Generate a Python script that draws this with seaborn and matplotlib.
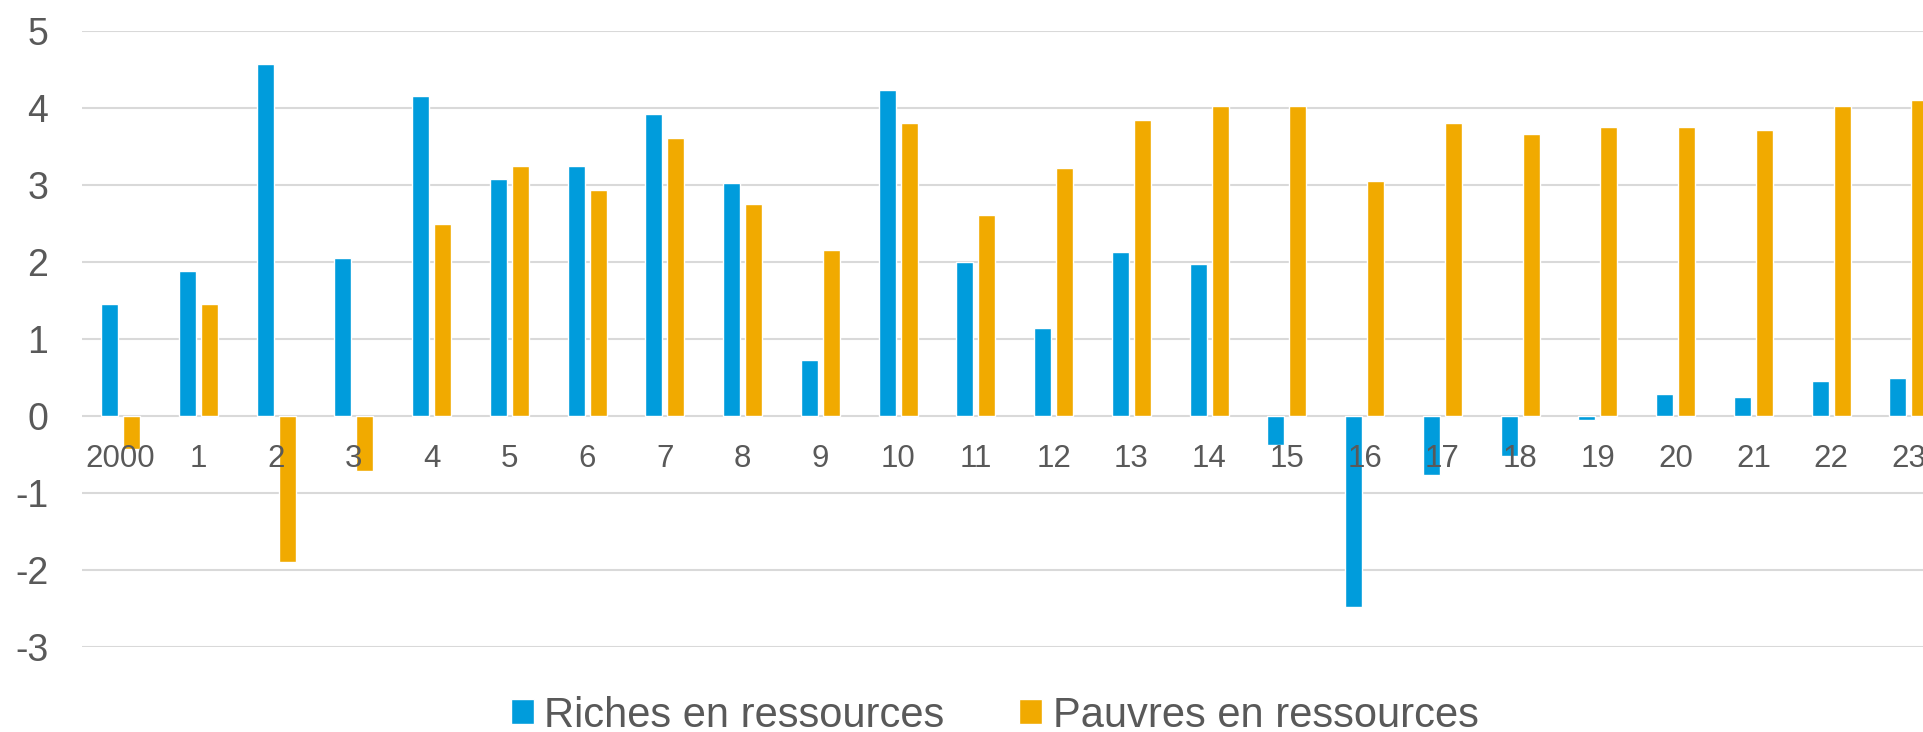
import pandas as pd
import matplotlib
matplotlib.use('Agg')
import matplotlib.pyplot as plt
import seaborn as sns

# data
years = ['2000', '1', '2', '3', '4', '5', '6', '7', '8', '9', '10', '11',
         '12', '13', '14', '15', '16', '17', '18', '19', '20', '21', '22', '23']
riches = [1.45, 1.88, 4.57, 2.05, 4.16, 3.08, 3.25, 3.92, 3.02, 0.73, 4.24, 2.00,
          1.14, 2.13, 1.97, -0.38, -2.48, -0.77, -0.52, -0.05, 0.28, 0.25, 0.45, 0.50]
pauvres = [-0.43, 1.45, -1.90, -0.72, 2.50, 3.25, 2.94, 3.61, 2.75, 2.16, 3.80, 2.61,
           3.22, 3.85, 4.02, 4.02, 3.05, 3.80, 3.66, 3.75, 3.75, 3.72, 4.02, 4.11]
series_names = ['Riches en ressources', 'Pauvres en ressources']
colors = ['#009cdc', '#f1aa00']
yticks = [-3, -2, -1, 0, 1, 2, 3, 4, 5]

df = pd.DataFrame({
    'year': years * 2,
    'value': riches + pauvres,
    'group': [series_names[0]] * len(years) + [series_names[1]] * len(years),
})

sns.set_style('white')
plt.rcParams['font.family'] = ['Liberation Sans', 'DejaVu Sans']
plt.rcParams['axes.unicode_minus'] = False
text_color = '#595959'

fig = plt.figure(figsize=(19.24, 7.32), dpi=100)
ax = fig.add_axes([0.0425, 0.1161, 0.9699, 0.8415])

sns.barplot(data=df, x='year', y='value', hue='group', order=years,
            hue_order=series_names, palette=colors, width=0.566, gap=0.227,
            saturation=1, errorbar=None, ax=ax)

ax.set_xlim(-0.5, len(years) - 0.5)
ax.set_ylim(-3, 5)
ax.set_yticks(yticks)
ax.set_xlabel('')
ax.set_ylabel('')

# gridlines behind bars, year labels sitting on the zero line above bars
ax.set_axisbelow(True)
ax.grid(axis='y', color='#d9d9d9', linewidth=1.5)
ax.grid(axis='x', visible=False)
ax.xaxis.set_zorder(3)
for s in ax.spines.values():
    s.set_visible(False)
ax.spines['bottom'].set_position(('data', 0))

ax.tick_params(axis='x', length=0, pad=20, labelsize=22.5, labelcolor=text_color)
ax.tick_params(axis='y', length=0, pad=24, labelsize=27, labelcolor=text_color)

handles, labels = ax.get_legend_handles_labels()
ax.legend(handles, labels, loc='lower center', bbox_to_anchor=(0.517, -0.005),
          bbox_transform=fig.transFigure, ncol=2, frameon=False, fontsize=30,
          labelcolor=text_color, handlelength=0.55, handleheight=0.55,
          handletextpad=0.25, columnspacing=1.8, borderpad=0, borderaxespad=0)

plt.savefig('out.png', dpi=100)
plt.close()
